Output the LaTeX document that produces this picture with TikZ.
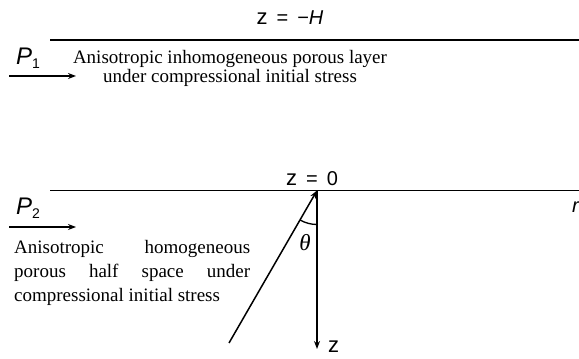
\documentclass[tikz,border=0pt]{standalone}
\usepackage{fontspec}
\setmainfont{Liberation Serif}
\setsansfont{Liberation Sans}
\usetikzlibrary{arrows.meta,positioning}
\tikzset{
	diagram/.style={x=1pt, y=1pt, >={Stealth[length=8pt,width=6pt]}},
	meja/.style={line width=1.9pt},
	tok/.style={->, line width=1.5pt},
	oznaka/.style={font=\fontsize{20}{22}\sffamily\itshape, inner sep=0pt},
	sila/.style={font=\fontsize{24}{24}\sffamily\itshape, inner sep=0pt},
	opis/.style={font=\fontsize{19}{19}\selectfont, inner sep=0pt},
	kot/.style={font=\fontsize{23}{24}\selectfont\itshape, inner sep=0pt},
}
\newcommand{\vmes}{\hspace{0.45em}}
\newcommand{\zcrka}{{\fontsize{22}{22}\selectfont\upshape z}}
\newcommand{\indeks}[1]{\raisebox{-4pt}{\fontsize{14}{14}\selectfont\upshape #1}}

\begin{document}
\begin{tikzpicture}[diagram]
\useasboundingbox (0,0) rectangle (579,359);

% zgornja plast
\coordinate (hL) at (50,319);
\coordinate (hR) at (590,319);
\draw[meja] (hL) -- (hR);
\node[oznaka, anchor=base] (zH) at (290,334) {\zcrka\vmes\upshape=\vmes−\itshape H};
\node[sila, anchor=base west] (P1) at (16,294) {P\indeks{1}};
\coordinate (p1a) at (9,283);
\coordinate (p1b) at (76,283);
\draw[tok] (p1a) -- (p1b);
\node[opis, align=center, anchor=base] (sloj) at (230,276)
    {Anisotropic inhomogeneous porous layer\\ under compressional initial stress};

% polprostor
\coordinate (bL) at (50,168.5);
\coordinate (bR) at (590,168.5);
\coordinate (O) at (317,168.5);
\draw[meja] (bL) -- (bR);
\node[oznaka, anchor=base] (z0) at (312,173) {\zcrka\vmes\upshape=\vmes0};
\node[oznaka, anchor=base east] (r) at (579,146) {r};
\node[sila, anchor=base west] (P2) at (16,144) {P\indeks{2}};
\coordinate (p2a) at (9,132);
\coordinate (p2b) at (76,132);
\draw[tok] (p2a) -- (p2b);
\node[opis, font=\fontsize{19}{24}\selectfont, text width=236pt, align=justify,
      anchor=base west] (polprostor) at (14,105)
    {Anisotropic homogeneous\linebreak porous half space under\linebreak
     compressional initial stress};

% osi in kot
\coordinate (zkon) at (317,10);
\coordinate (pzac) at (229,16);
\draw[tok] (O) -- (zkon);
\draw[tok] (pzac) -- (O);
\draw[line width=1.3pt] ([shift={(240:34)}]O) arc[start angle=240, end angle=270, radius=34];
\node[kot] (theta) at (305,116) {θ};
\node[oznaka, anchor=west] (z) at (328,12) {\zcrka};

\end{tikzpicture}
\end{document}
